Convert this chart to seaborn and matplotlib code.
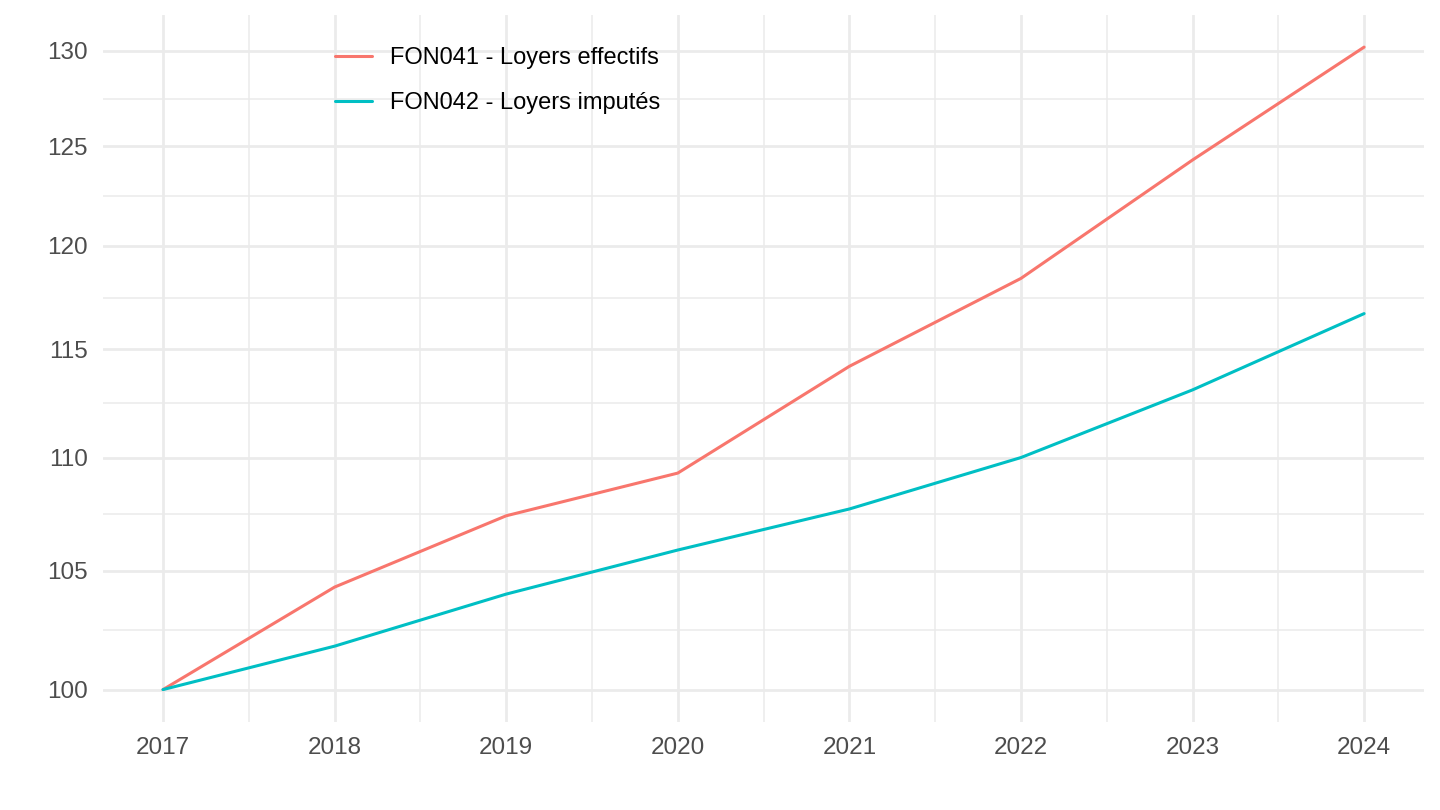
import numpy as np
import pandas as pd
import matplotlib.pyplot as plt
import seaborn as sns

# Indices des loyers, base 100 en 2017
years = [2017, 2018, 2019, 2020, 2021, 2022, 2023, 2024]
fon041 = [100.0, 104.3, 107.4, 109.3, 114.2, 118.4, 124.3, 130.2]
fon042 = [100.0, 101.8, 104.0, 105.9, 107.7, 110.0, 113.1, 116.7]
labels = ['FON041 - Loyers effectifs', 'FON042 - Loyers imputés']
y_ticks = [100, 105, 110, 115, 120, 125, 130]

df = pd.DataFrame({
    'year': years * 2,
    'value': fon041 + fon042,
    'series': [labels[0]] * len(years) + [labels[1]] * len(years),
})

sns.set_style('white')
plt.rcParams['font.family'] = ['Liberation Sans', 'DejaVu Sans']

fig = plt.figure(figsize=(14.4, 8.1), dpi=100)
ax = fig.add_axes([0.0715, 0.109, 0.9175, 0.8725])

sns.lineplot(data=df, x='year', y='value', hue='series',
             palette=['#F8766D', '#00BFC4'], linewidth=2.2, ax=ax)

ax.set_yscale('log')
lo, hi = np.log10(min(df['value'])), np.log10(max(df['value']))
pad = (hi - lo) * 0.05
ax.set_ylim(10 ** (lo - pad), 10 ** (hi + pad))
ax.set_xlim(2017 - 0.35, 2024 + 0.35)

ax.set_yticks(y_ticks)
ax.set_yticklabels([str(t) for t in y_ticks])
minor_y = [np.sqrt(a * b) for a, b in zip(y_ticks[:-1], y_ticks[1:])]
ax.set_yticks(minor_y, minor=True)
ax.set_xticks(years)
ax.set_xticks([y + 0.5 for y in years[:-1]], minor=True)

ax.grid(which='major', color='#EBEBEB', linewidth=2.0)
ax.grid(which='minor', color='#EBEBEB', linewidth=1.1)
ax.set_axisbelow(True)
for s in ax.spines.values():
    s.set_visible(False)
ax.tick_params(which='both', length=0, labelsize=17.5, labelcolor='#4D4D4D')
ax.tick_params(axis='x', pad=11)
ax.tick_params(axis='y', pad=11)
ax.yaxis.set_minor_formatter(plt.NullFormatter())
ax.set_xlabel('')
ax.set_ylabel('')

leg = ax.legend(loc='upper left', bbox_to_anchor=(0.176, 0.955), frameon=False,
                fontsize=17, handlelength=1.55, handletextpad=0.75,
                labelspacing=1.0, borderpad=0, borderaxespad=0, title=None)
for line in leg.get_lines():
    line.set_linewidth(2.2)
for t in leg.get_texts():
    t.set_color('black')

plt.savefig('out.png', dpi=100)
